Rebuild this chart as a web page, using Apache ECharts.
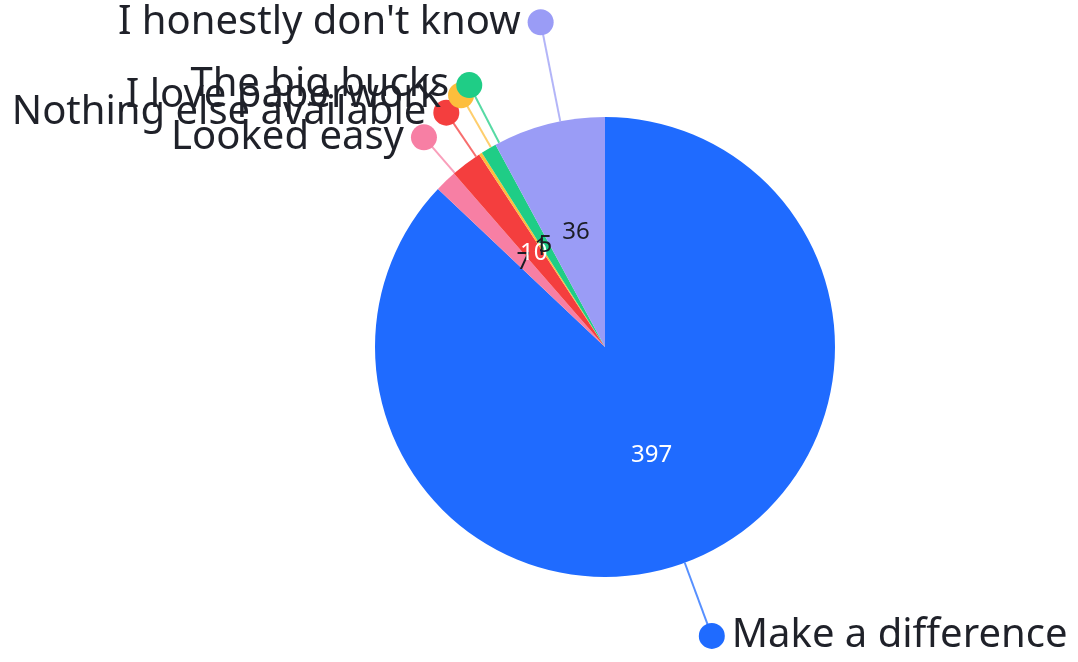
<!DOCTYPE html>
<html>
<head>
<meta charset="utf-8">
<script src="https://cdn.jsdelivr.net/npm/echarts@6/dist/echarts.min.js"></script>
<style>
  html, body { margin: 0; padding: 0; background: #ffffff; }
  #chart { width: 1078px; height: 662px; }
</style>
</head>
<body>
<div id="chart"></div>
<script>
// Survey answers, clockwise from 12 o'clock
const categories = ['Make a difference', 'Looked easy', 'Nothing else available', 'I love paperwork', 'The big bucks', "I honestly don't know"];
const counts = [397, 7, 10, 1, 5, 36];

// Styling per slice
const sliceColors = ['#1f6bff', '#f77fa4', '#f43e3e', '#fdbe3c', '#1fcd86', '#9a9cf6'];
const valueLabelColors = ['#ffffff', '#1b1d24', '#ffffff', '#1b1d24', '#1b1d24', '#1b1d24'];
const leaderLengths = [78, 47, 53, 60, 65, 101];

const FONT = '"Noto Sans", Lato, sans-serif';
const TEXT_COLOR = '#1f2129';
const CENTER = [605, 347];
const RADIUS = 230;
// leader lines lean a little clockwise of each slice's mid angle
const LEADER_TURN = 3 * Math.PI / 180;

const total = counts.reduce((a, b) => a + b, 0);

// Which side of the pie each slice's label falls on (from its mid angle)
let running = 0;
const onRight = counts.map(v => {
  const mid = (running + v / 2) / total * 2 * Math.PI;
  running += v;
  return Math.sin(mid) >= 0;
});

const pieData = categories.map((name, i) => {
  const rich = {
    dot: { width: 26, height: 26, borderRadius: 13, backgroundColor: sliceColors[i] },
    gap: { width: 7 },
    name: { fontSize: 40, fontFamily: FONT, color: TEXT_COLOR, lineHeight: 46 }
  };
  return {
    name,
    value: counts[i],
    itemStyle: { color: sliceColors[i] },
    label: {
      formatter: onRight[i] ? '{dot|}{gap|}{name|{b}}' : '{name|{b}}{gap|}{dot|}',
      rich
    },
    labelLine: {
      length: leaderLengths[i],
      length2: 0,
      lineStyle: { color: sliceColors[i], width: 2, opacity: 0.75 }
    }
  };
});

const valueData = categories.map((name, i) => ({
  name,
  value: counts[i],
  label: { color: valueLabelColors[i] }
}));

// Turn a point about the pie centre (clockwise on screen)
function turn(p) {
  const x = p[0] - CENTER[0], y = p[1] - CENTER[1];
  const c = Math.cos(LEADER_TURN), s = Math.sin(LEADER_TURN);
  return [CENTER[0] + x * c - y * s, CENTER[1] + x * s + y * c];
}

const chart = echarts.init(document.getElementById('chart'), null, { renderer: 'canvas' });
chart.setOption({
  animation: false,
  backgroundColor: '#ffffff',
  series: [
    {
      type: 'pie',
      center: CENTER,
      radius: [0, RADIUS],
      startAngle: 90,
      clockwise: true,
      avoidLabelOverlap: false,
      minShowLabelAngle: 0,
      silent: true,
      itemStyle: { borderWidth: 0 },
      label: {
        show: true,
        position: 'outside',
        distanceToLabelLine: -13,
        alignTo: 'none'
      },
      labelLine: { show: true, smooth: false },
      labelLayout: function (params) {
        const pts = params.labelLinePoints;
        if (!pts) return { hideOverlap: false };
        const moved = pts.map(turn);
        const end = pts[pts.length - 1], newEnd = moved[moved.length - 1];
        return {
          hideOverlap: false,
          dx: newEnd[0] - end[0],
          dy: newEnd[1] - end[1],
          labelLinePoints: moved
        };
      },
      data: pieData
    },
    {
      type: 'pie',
      center: CENTER,
      radius: [0, RADIUS],
      startAngle: 90,
      clockwise: true,
      avoidLabelOverlap: false,
      minShowLabelAngle: 0,
      silent: true,
      itemStyle: { color: 'rgba(0,0,0,0)', borderWidth: 0 },
      label: {
        show: true,
        position: 'inside',
        formatter: '{c}',
        fontSize: 24,
        fontFamily: FONT
      },
      labelLine: { show: false },
      labelLayout: { hideOverlap: false },
      data: valueData
    }
  ]
});
</script>
</body>
</html>
